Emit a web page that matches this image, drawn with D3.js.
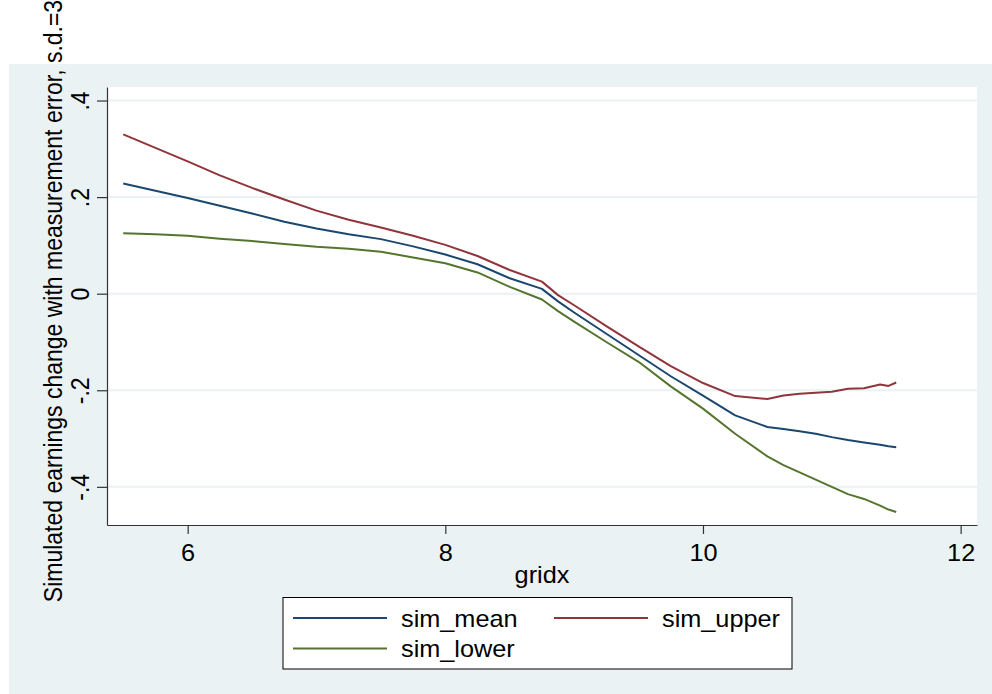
<!DOCTYPE html>
<html>
<head>
<meta charset="utf-8">
<script src="https://cdn.jsdelivr.net/npm/d3@7"></script>
<style>
  body { margin: 0; background: #ffffff; }
  text { font-family: "Liberation Sans", Arial, sans-serif; fill: #000; }
</style>
</head>
<body>
<svg id="drawing_region"></svg>
<script>
// values
const gridx = [5.5, 5.75, 6, 6.25, 6.5, 6.75, 7, 7.25, 7.5, 7.75, 8, 8.25, 8.5, 8.75, 8.875,
               9, 9.25, 9.5, 9.75, 10, 10.25, 10.5, 10.625, 10.75, 10.875, 11, 11.125, 11.25,
               11.375, 11.44, 11.5];
const sim_mean = [0.228, 0.213, 0.198, 0.182, 0.166, 0.149, 0.135, 0.123, 0.113, 0.098, 0.081,
                  0.061, 0.032, 0.010, -0.016, -0.039, -0.083, -0.127, -0.171, -0.211, -0.252,
                  -0.276, -0.280, -0.285, -0.290, -0.297, -0.303, -0.308, -0.313, -0.316, -0.318];
const sim_upper = [0.330, 0.302, 0.274, 0.245, 0.219, 0.195, 0.172, 0.153, 0.137, 0.120, 0.101,
                   0.078, 0.049, 0.025, -0.003, -0.024, -0.067, -0.109, -0.150, -0.185, -0.212,
                   -0.218, -0.211, -0.207, -0.205, -0.203, -0.197, -0.196, -0.188, -0.191, -0.184];
const sim_lower = [0.125, 0.123, 0.120, 0.114, 0.109, 0.103, 0.097, 0.093, 0.087, 0.075, 0.063,
                   0.044, 0.014, -0.012, -0.036, -0.058, -0.100, -0.141, -0.192, -0.238, -0.290,
                   -0.337, -0.355, -0.370, -0.385, -0.400, -0.415, -0.425, -0.439, -0.447, -0.452];
const seriesNames = ["sim_mean", "sim_upper", "sim_lower"];
const xTicks = [6, 8, 10, 12];
const yTicks = [-0.4, -0.2, 0, 0.2, 0.4];
const yTitle = "Simulated earnings change with measurement error, s.d.=3";
const xTitle = "gridx";

class LineChart {

    constructor( config, series ) {
        this.config = config;
        this.series = series;
        this.init();
    }

    init() {
        let self = this;
        self.svg = d3.select( self.config.parent )
            .attr( 'width', self.config.width )
            .attr( 'height', self.config.height );

        // outer graph region
        self.svg.append('rect')
            .attr('x', 9).attr('y', 64)
            .attr('width', self.config.width - 9).attr('height', self.config.height - 64)
            .attr('fill', '#eaf2f3');

        const p = self.config.plot;
        self.svg.append('rect')
            .attr('x', p.left).attr('y', p.top)
            .attr('width', p.right - p.left).attr('height', p.bottom - p.top)
            .attr('fill', '#ffffff');

        self.xscale = d3.scaleLinear()
            .domain( [5.374, 12.127] )
            .range( [p.left, p.right] );
        self.yscale = d3.scaleLinear()
            .domain( [-0.479, 0.428] )
            .range( [p.bottom, p.top] );
    }

    update() {
        let self = this;
        self.line = d3.line()
            .x( d => self.xscale(d.x) )
            .y( d => self.yscale(d.y) );
        this.render();
    }

    render() {
        let self = this;
        const p = self.config.plot;
        const sx = self.config.stretch;
        const fs = self.config.font_size;

        // grid lines
        self.svg.append('g')
            .selectAll('line')
            .data( yTicks )
            .enter().append('line')
            .attr('x1', p.left).attr('x2', p.right)
            .attr('y1', d => self.yscale(d)).attr('y2', d => self.yscale(d))
            .attr('stroke', '#eaf2f3')
            .attr('stroke-width', 2);

        // lines
        self.svg.append('g')
            .selectAll('path')
            .data( self.series )
            .enter().append('path')
            .attr('d', d => self.line( d.values ))
            .attr('fill', 'none')
            .attr('stroke', d => d.color)
            .attr('stroke-width', 2)
            .attr('stroke-linejoin', 'round');

        // y axis
        const yaxis = d3.axisLeft( self.yscale )
            .tickValues( yTicks )
            .tickSize( 10 )
            .tickSizeOuter( 0 )
            .tickFormat( v => v === 0 ? '0' : String(v).replace('0.', '.') );
        const yg = self.svg.append('g')
            .attr('transform', `translate(${p.left},0)`)
            .call( yaxis );
        yg.selectAll('path, line').attr('stroke', '#333').attr('stroke-width', 1.2);
        yg.selectAll('text')
            .attr('x', null).attr('dy', null)
            .attr('transform', `translate(-18,0) scale(${sx},1) rotate(-90)`)
            .attr('text-anchor', 'middle')
            .style('font-size', fs + 'px');

        // x axis
        const xaxis = d3.axisBottom( self.xscale )
            .tickValues( xTicks )
            .tickSize( 9 )
            .tickSizeOuter( 0 )
            .tickFormat( d3.format('d') );
        const xg = self.svg.append('g')
            .attr('transform', `translate(0,${p.bottom})`)
            .call( xaxis );
        xg.selectAll('path, line').attr('stroke', '#333').attr('stroke-width', 1.2);
        xg.selectAll('text')
            .attr('y', null).attr('dy', null)
            .attr('transform', `translate(0,36) scale(${sx},1)`)
            .style('font-size', fs + 'px');

        // axis titles
        self.svg.append('text')
            .attr('transform', `translate(62,301) scale(${sx},1) rotate(-90)`)
            .attr('text-anchor', 'middle')
            .style('font-size', fs + 'px')
            .text( yTitle );
        self.svg.append('text')
            .attr('transform', `translate(${(p.left + p.right) / 2},583) scale(${sx},1)`)
            .attr('text-anchor', 'middle')
            .style('font-size', fs + 'px')
            .text( xTitle );

        // legend
        const lg = self.svg.append('g');
        lg.append('rect')
            .attr('x', 283).attr('y', 597.5)
            .attr('width', 509).attr('height', 71.5)
            .attr('fill', '#ffffff')
            .attr('stroke', '#000')
            .attr('stroke-width', 1);
        const pos = [ {x: 293, y: 618}, {x: 554, y: 618}, {x: 293, y: 648.5} ];
        const items = lg.selectAll('g.item')
            .data( self.series )
            .enter().append('g')
            .attr('class', 'item')
            .attr('transform', (d, i) => `translate(${pos[i].x},${pos[i].y})`);
        items.append('line')
            .attr('x1', 0).attr('x2', 94)
            .attr('stroke', d => d.color)
            .attr('stroke-width', 2);
        items.append('text')
            .attr('transform', `translate(108,8.5) scale(${sx},1)`)
            .style('font-size', fs + 'px')
            .text( d => d.name );
    }
}

const colors = ['#1a476f', '#90353b', '#55752f'];
const series = [sim_mean, sim_upper, sim_lower].map( (vals, i) => ({
    name: seriesNames[i],
    color: colors[i],
    values: gridx.map( (x, j) => ({ x: x, y: vals[j] }) )
}));

const config = {
    parent: '#drawing_region',
    width: 992,
    height: 694,
    plot: {left: 107, right: 977, top: 87, bottom: 525},
    font_size: 23,
    stretch: 1.1
};
const chart = new LineChart( config, series );
chart.update();
</script>
</body>
</html>
